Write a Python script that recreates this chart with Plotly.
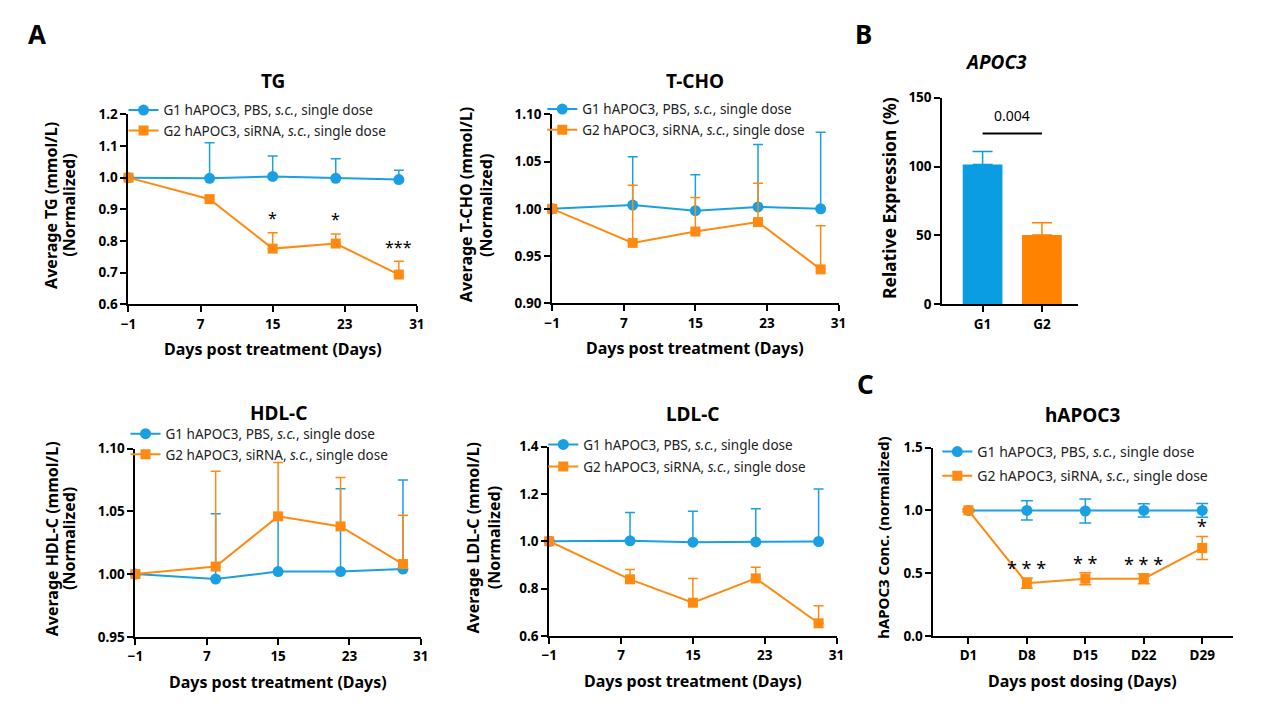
import plotly.graph_objects as go

W, H = 1288, 715
FONT = "Noto Sans"
BLUE = "#1A9FE2"
ORANGE = "#FF8A12"
BLUE_BAR = "#0A9DE2"
ORANGE_BAR = "#FF8200"

days = [-1, 8, 15, 22, 29]
day_ticks = [-1, 7, 15, 23, 31]
g1_name = "G1 hAPOC3, PBS, <i>s.c.</i>, single dose"
g2_name = "G2 hAPOC3, siRNA, <i>s.c.</i>, single dose"

tg_g1 = [1.0, 0.998, 1.004, 0.998, 0.994]
tg_g1_err = [0, 0.112, 0.064, 0.062, 0.029]
tg_g2 = [1.0, 0.932, 0.776, 0.792, 0.694]
tg_g2_err = [0, 0.012, 0.050, 0.030, 0.042]
tg_sig = ["", "", "*", "*", "***"]

tcho_g1 = [1.0, 1.004, 0.998, 1.002, 1.0]
tcho_g1_err = [0, 0.051, 0.038, 0.066, 0.081]
tcho_g2 = [1.0, 0.964, 0.976, 0.986, 0.936]
tcho_g2_err = [0, 0.061, 0.036, 0.041, 0.046]

hdl_g1 = [1.0, 0.996, 1.002, 1.002, 1.004]
hdl_g1_err = [0, 0.052, 0.043, 0.066, 0.071]
hdl_g2 = [1.0, 1.006, 1.046, 1.038, 1.008]
hdl_g2_err = [0, 0.076, 0.043, 0.039, 0.039]

ldl_g1 = [1.0, 1.002, 0.996, 0.997, 0.999]
ldl_g1_err = [0, 0.120, 0.131, 0.141, 0.222]
ldl_g2 = [1.0, 0.839, 0.740, 0.843, 0.653]
ldl_g2_err = [0, 0.042, 0.102, 0.047, 0.074]

groups = ["G1", "G2"]
expr = [101.5, 50.3]
expr_err = [9.5, 9.0]
p_value = "0.004"

c_days = ["D1", "D8", "D15", "D22", "D29"]
c_g1 = [1.0, 1.0, 0.995, 1.0, 1.0]
c_g1_err = [0.01, 0.076, 0.096, 0.052, 0.055]
c_g2 = [1.0, 0.42, 0.455, 0.455, 0.70]
c_g2_err = [0.01, 0.040, 0.047, 0.040, 0.092]
c_sig = ["", "* * *", "* *", "* * *", "*"]

fig = go.Figure()


def dom(x0, x1, y0, y1):
    return [x0 / W, x1 / W], [1 - y1 / H, 1 - y0 / H]


def axstyle(rng, tickvals, ticktext=None, fs=13.5):
    d = dict(range=rng, tickvals=tickvals, showline=True, linecolor="black", linewidth=2,
             ticks="outside", ticklen=6, tickwidth=2, tickcolor="black", showgrid=False,
             zeroline=False, tickfont=dict(family=FONT, size=fs, color="black", weight="bold"),
             fixedrange=True)
    if ticktext is not None:
        d["ticktext"] = ticktext
    return d


annotations = []


def text(x, y, t, size=15, angle=0, bold=True, italic=False, xref="paper", yref="paper",
         xanchor="center", yanchor="middle", color="black"):
    annotations.append(dict(x=x, y=y, xref=xref, yref=yref, text=t, showarrow=False,
                            textangle=angle, xanchor=xanchor, yanchor=yanchor,
                            font=dict(family=FONT, size=size, color=color,
                                      weight="bold" if bold else "normal",
                                      style="italic" if italic else "normal")))


def line_panel(idx, box, g1, g1e, g2, g2e, yr, yt, yfmt, title, ylines, yoffs, yfs, xvals,
               xtitle, xr, xticks, xticktext=None, sig=None, symmetric=False, legpos=None,
               sigpad=0.0, sigfs=16, siganchor="bottom", leggap=0, legfs=13.5, capw=5,
               title_dy=34):
    xa = "x" if idx == 1 else f"x{idx}"
    ya = "y" if idx == 1 else f"y{idx}"
    leg = "legend" if idx == 1 else f"legend{idx}"
    for vals, errs, name, col, sym, grp, ms in [(g1, g1e, g1_name, BLUE, "circle", "a", 11),
                                                (g2, g2e, g2_name, ORANGE, "square", "b", 10)]:
        ey = dict(type="data", array=errs, color=col, thickness=1.5, width=capw, visible=True)
        if not symmetric:
            ey["symmetric"] = False
            ey["arrayminus"] = [0] * len(errs)
        fig.add_trace(go.Scatter(x=xvals, y=vals, name=name, mode="lines+markers",
                                 line=dict(color=col, width=2),
                                 marker=dict(symbol=sym, size=ms, color=col),
                                 error_y=ey, cliponaxis=False, xaxis=xa, yaxis=ya, legend=leg,
                                 legendgroup=f"{idx}{grp}"))
    xd, yd = dom(*box)
    fig.update_layout(**{
        ("xaxis" if idx == 1 else f"xaxis{idx}"): dict(domain=xd, anchor=ya, **axstyle(xr, xticks, xticktext)),
        ("yaxis" if idx == 1 else f"yaxis{idx}"): dict(domain=yd, anchor=xa, tickformat=yfmt, **axstyle(yr, yt)),
        leg: dict(x=legpos[0] / W, y=1 - legpos[1] / H, xanchor="left", yanchor="top",
                  bgcolor="rgba(0,0,0,0)", font=dict(family=FONT, size=legfs, color="#222"),
                  itemwidth=30, tracegroupgap=leggap),
    })
    x0, x1, y0, y1 = box
    text((x0 + x1) / 2 / W, 1 - (y0 - title_dy) / H, title, size=19)
    text((x0 + x1) / 2 / W, 1 - (y1 + 46) / H, xtitle, size=16)
    for t, off in zip(ylines, yoffs):
        text((x0 + off) / W, 1 - ((y0 + y1) / 2 - 4) / H, t, size=yfs, angle=-90)
    if sig:
        for xv, v, e, s in zip(xvals, g2, g2e, sig):
            if s:
                text(xv, v + e + sigpad, s, size=sigfs, bold=False, xref=xa, yref=ya,
                     yanchor=siganchor)


line_panel(1, (122, 414, 108, 303), tg_g1, tg_g1_err, tg_g2, tg_g2_err, [0.6, 1.2],
           [0.6, 0.7, 0.8, 0.9, 1.0, 1.1, 1.2], ".1f", "TG",
           ["Average TG (mmol/L)", "(Normalized)"], [-78, -60], 16, days,
           "Days post treatment (Days)", [-1, 31], day_ticks, sig=tg_sig, legpos=(117, 88),
           sigpad=0.005)
line_panel(2, (551, 841, 108, 302), tcho_g1, tcho_g1_err, tcho_g2, tcho_g2_err, [0.9, 1.1],
           [0.9, 0.95, 1.0, 1.05, 1.1], ".2f", "T-CHO",
           ["Average T-CHO (mmol/L)", "(Normalized)"], [-87, -67], 16, days,
           "Days post treatment (Days)", [-1, 31], day_ticks, legpos=(541, 87))
line_panel(3, (129, 418, 451, 644), hdl_g1, hdl_g1_err, hdl_g2, hdl_g2_err, [0.95, 1.1],
           [0.95, 1.0, 1.05, 1.1], ".2f", "HDL-C",
           ["Average HDL-C (mmol/L)", "(Normalized)"], [-85, -67], 16, days,
           "Days post treatment (Days)", [-1, 31], day_ticks, legpos=(119, 420), title_dy=37)
line_panel(4, (548, 839, 449, 643), ldl_g1, ldl_g1_err, ldl_g2, ldl_g2_err, [0.6, 1.4],
           [0.6, 0.8, 1.0, 1.2, 1.4], ".1f", "LDL-C",
           ["Average LDL-C (mmol/L)", "(Normalized)"], [-77, -56], 16, days,
           "Days post treatment (Days)", [-1, 31], day_ticks, legpos=(542, 431), leggap=1.5)
line_panel(6, (937, 1240, 450, 643), c_g1, c_g1_err, c_g2, c_g2_err, [0, 1.5],
           [0, 0.5, 1.0, 1.5], ".1f", "hAPOC3",
           ["hAPOC3 Conc. (normalized)"], [-51], 15, list(range(len(c_days))),
           "Days post dosing (Days)", [-0.6, 4.52], list(range(len(c_days))),
           xticktext=c_days, sig=c_sig, symmetric=True, legpos=(941, 438), sigpad=0.08,
           sigfs=18, siganchor="middle", leggap=3, legfs=14, capw=6)

# Panel B bars
for i, (v, e, col) in enumerate(zip(expr, expr_err, [BLUE_BAR, ORANGE_BAR])):
    fig.add_trace(go.Bar(x=[i], y=[v], width=0.67, marker=dict(color=col, line=dict(width=0)),
                         error_y=dict(type="data", array=[e], symmetric=False, arrayminus=[0],
                                      color=col, thickness=1.5, width=10),
                         showlegend=False, xaxis="x5", yaxis="y5", cliponaxis=False))
xd, yd = dom(946, 1083, 91, 303)
fig.update_layout(
    xaxis5=dict(domain=xd, anchor="y5", **axstyle([-0.68, 1.6], [0, 1], groups)),
    yaxis5=dict(domain=yd, anchor="x5", **axstyle([0, 150], [0, 50, 100, 150])),
)
top = max(v + e for v, e in zip(expr, expr_err))
fig.add_shape(type="line", xref="x5", yref="y5", x0=0, x1=1, y0=top + 13, y1=top + 13,
              line=dict(color="black", width=2))
text(0.5, top + 18, p_value, size=14, bold=False, xref="x5", yref="y5", yanchor="bottom")
text(1000 / W, 1 - 54 / H, "APOC3", size=19, italic=True)
text(892 / W, 1 - 194 / H, "Relative Expression (%)", size=17.5, angle=-90)

# panel letters
text(29 / W, 1 - 26 / H, "A", size=26)
text(866 / W, 1 - 26 / H, "B", size=26)
text(868 / W, 1 - 385 / H, "C", size=26)

fig.update_layout(width=W, height=H, margin=dict(l=0, r=0, t=0, b=0),
                  paper_bgcolor="white", plot_bgcolor="white", annotations=annotations,
                  barmode="overlay")
fig.write_html("out.html", post_script="document.body.style.margin='0';")
